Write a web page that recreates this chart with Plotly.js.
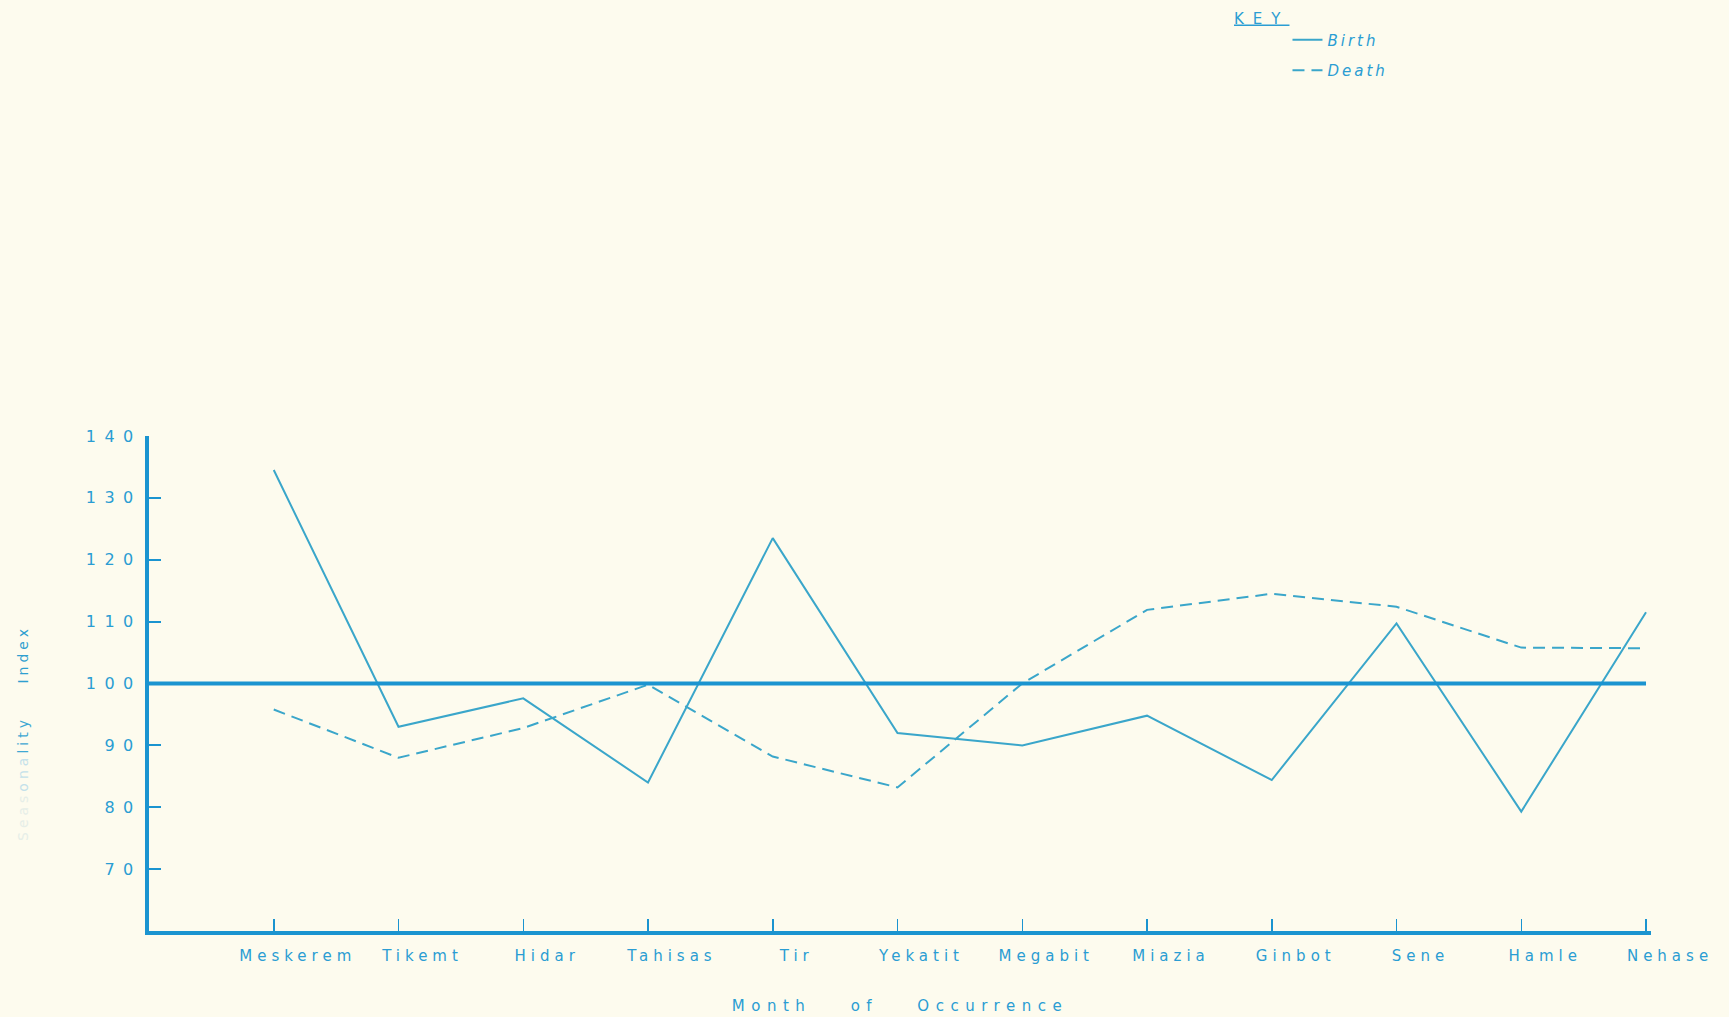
<!DOCTYPE html>
<html>
<head>
<meta charset="utf-8">
<script src="https://cdn.plot.ly/plotly-3.0.1.min.js"></script>
<style>
  html, body { margin: 0; padding: 0; background: #fdfbee; }
  #chart { width: 1729px; height: 1017px; }
  .xtick text { letter-spacing: 5px; }
  .ytick text { letter-spacing: 8.5px; }
  .g-xtitle text { letter-spacing: 6.5px; word-spacing: 28px; }
  .legendtext { letter-spacing: 3px; }
  .legendtitletext { letter-spacing: 9px; }
  .annotation-text { letter-spacing: 4px; word-spacing: 24px; }
</style>
</head>
<body>
<div id="chart"></div>
<script>
// ---- data ----
const months = ["Meskerem", "Tikemt", "Hidar", "Tahisas", "Tir", "Yekatit",
                "Megabit", "Miazia", "Ginbot", "Sene", "Hamle", "Nehase"];
const birthIndex = [134.5, 93, 97.6, 84, 123.5, 92, 90, 94.8, 84.4, 109.7, 79.3, 111.5];
const deathIndex = [95.8, 88, 92.8, 99.8, 88.2, 83.2, 100, 111.9, 114.5, 112.4, 105.8, 105.7];
const yTickValues = [70, 80, 90, 100, 110, 120, 130, 140];
const baselineValue = 100;
const seriesNames = ["Birth", "Death"];

// ---- styles ----
const axisColor = "#1b94d0";
const lineColor = "#3aa6ca";
const textColor = "#2a9dd3";
const bg = "#fdfbee";
const fontFamily = "DejaVu Sans, Verdana, sans-serif";
const xRange = [-1, 11.04];
const yRange = [60, 140];

const traces = [
  {
    x: months, y: birthIndex, name: seriesNames[0], type: "scatter", mode: "lines",
    legendgroup: "b",
    line: { color: lineColor, width: 2 }
  },
  {
    x: months, y: deathIndex, name: seriesNames[1], type: "scatter", mode: "lines",
    legendgroup: "d",
    line: { color: lineColor, width: 2, dash: "12px,7px" }
  }
];

const layout = {
  width: 1729, height: 1017,
  paper_bgcolor: bg, plot_bgcolor: bg,
  margin: { l: 149, r: 78, t: 436, b: 86, autoexpand: false },
  font: { family: fontFamily, color: textColor },
  showlegend: true,
  legend: {
    xref: "container", x: 1232 / 1729, xanchor: "left",
    yref: "container", y: 1 - 4 / 1017, yanchor: "top",
    bgcolor: "rgba(0,0,0,0)",
    tracegroupgap: 8,
    font: { family: fontFamily, size: 15, color: textColor, style: "italic" },
    title: { text: "KEY", side: "top left",
             font: { family: fontFamily, size: 15, color: textColor, style: "normal", lineposition: "under" } }
  },
  xaxis: {
    type: "category",
    range: xRange,
    automargin: false,
    showline: true, linewidth: 4, linecolor: axisColor,
    ticks: "inside", ticklen: 12, tickwidth: 1.5, tickcolor: axisColor,
    tickfont: { family: fontFamily, size: 15, color: textColor },
    ticklabelshift: 24, ticklabelstandoff: 8,
    showgrid: false, zeroline: false, fixedrange: true,
    title: { text: "Month of Occurrence", standoff: 37,
             font: { family: fontFamily, size: 15, color: textColor } }
  },
  yaxis: {
    range: yRange,
    automargin: false,
    tickmode: "array", tickvals: yTickValues,
    showline: true, linewidth: 4, linecolor: axisColor,
    ticks: "inside", ticklen: 12, tickwidth: 2, tickcolor: axisColor,
    tickfont: { family: fontFamily, size: 16, color: textColor },
    ticklabelstandoff: 0,
    showgrid: false, zeroline: false, fixedrange: true
  },
  shapes: [
    { type: "line", xref: "x", yref: "y",
      x0: xRange[0], x1: months.length - 1, y0: baselineValue, y1: baselineValue,
      line: { color: axisColor, width: 4 } }
  ],
  annotations: [
    { xref: "paper", yref: "paper", x: 0, y: 0.40, xshift: -136,
      textangle: -90, showarrow: false,
      font: { family: fontFamily, size: 14, color: textColor },
      text: '<span style="color:#e6eee8">Seas</span><span style="color:#c4e1ea">ona</span><span style="color:#3fa8d3">lity</span><span style="color:#2f9fd0"> Index</span>' }
  ]
};

Plotly.newPlot("chart", traces, layout, { displayModeBar: false, staticPlot: true });
</script>
</body>
</html>
